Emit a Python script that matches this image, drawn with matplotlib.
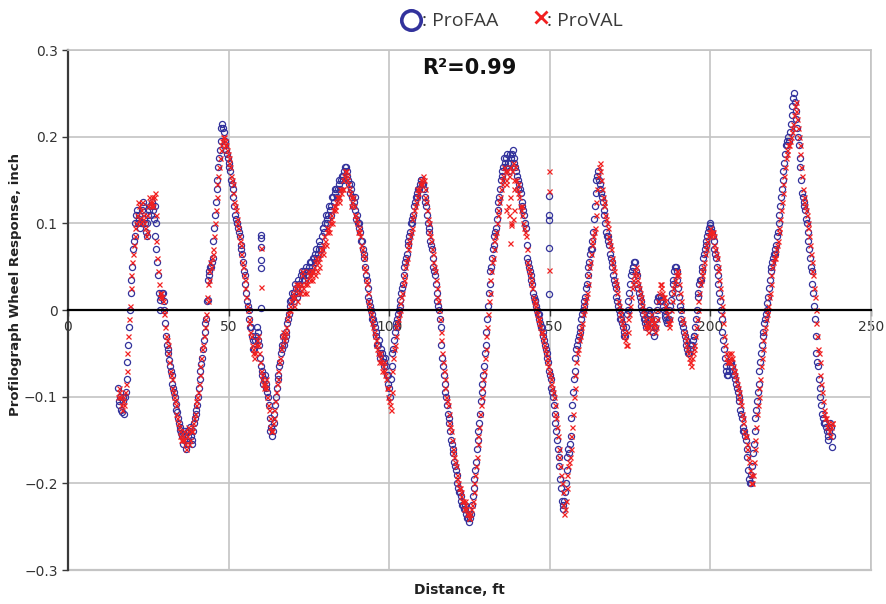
import numpy as np
import matplotlib
matplotlib.use("Agg")
import matplotlib.pyplot as plt
from matplotlib.lines import Line2D

# distance grid (ft): readings every half foot, plus the in-between readings
dist = np.arange(15.5, 238.01, 0.5)
dist_mid = dist[:-1] + 0.25

# ProFAA wheel response (inch), rows of 10 ft
faa = [
    -0.09, -0.105, -0.115, -0.10, -0.12, -0.095, -0.06, -0.02, 0.02, 0.05, 0.08, 0.10, 0.115, 0.11, 0.095, 0.115, 0.12, 0.10, 0.085, 0.11,
    0.12, 0.125, 0.115, 0.12, 0.07, 0.04, 0.0, 0.015, 0.02, 0.0, -0.03, -0.045, -0.058, -0.07, -0.085, -0.095, -0.108, -0.118, -0.13, -0.138,
    -0.145, -0.15, -0.14, -0.155, -0.145, -0.135, -0.15, -0.14, -0.125, -0.115, -0.10, -0.08, -0.062, -0.045, -0.025, -0.01, 0.035, 0.045, 0.05, 0.06,
    0.095, 0.125, 0.15, 0.175, 0.195, 0.215, 0.205, 0.19, 0.18, 0.17, 0.16, 0.145, 0.13, 0.11, 0.10, 0.095, 0.085, 0.07, 0.055, 0.04,
    0.02, 0.005, -0.01, -0.02, -0.035, -0.045, -0.03, -0.025, -0.04, -0.065, -0.075, -0.08, -0.085, -0.095, -0.11, -0.14, -0.145, -0.13, -0.11, -0.09,
    -0.075, -0.06, -0.045, -0.03, -0.035, -0.025, -0.01, 0.005, 0.012, 0.015, 0.02, 0.025, 0.02, 0.03, 0.04, 0.035, 0.045, 0.04, 0.045, 0.05,
    0.055, 0.05, 0.06, 0.065, 0.06, 0.07, 0.075, 0.085, 0.095, 0.10, 0.105, 0.11, 0.115, 0.12, 0.13, 0.135, 0.14, 0.14, 0.145, 0.15,
    0.15, 0.16, 0.165, 0.155, 0.145, 0.14, 0.13, 0.125, 0.115, 0.11, 0.10, 0.09, 0.08, 0.065, 0.05, 0.035, 0.015, 0.005, -0.005, -0.01,
    -0.02, -0.03, -0.04, -0.05, -0.045, -0.055, -0.06, -0.065, -0.075, -0.09, -0.08, -0.05, -0.035, -0.02, -0.01, 0.0, 0.012, 0.025, 0.04, 0.055,
    0.065, 0.08, 0.09, 0.10, 0.11, 0.125, 0.13, 0.14, 0.145, 0.15, 0.145, 0.13, 0.12, 0.10, 0.09, 0.075, 0.06, 0.045, 0.03, 0.01,
    0.0, -0.02, -0.055, -0.075, -0.095, -0.11, -0.125, -0.14, -0.155, -0.165, -0.18, -0.19, -0.205, -0.21, -0.22, -0.225, -0.23, -0.235, -0.24, -0.245,
    -0.235, -0.215, -0.195, -0.175, -0.15, -0.13, -0.105, -0.085, -0.065, -0.04, -0.01, 0.02, 0.045, 0.06, 0.075, 0.09, 0.105, 0.125, 0.14, 0.155,
    0.165, 0.17, 0.175, 0.17, 0.18, 0.175, 0.185, 0.175, 0.16, 0.15, 0.145, 0.135, 0.12, 0.11, 0.095, 0.06, 0.05, 0.04, 0.03, 0.015,
    0.01, 0.0, -0.005, -0.015, -0.02, -0.03, -0.04, -0.05, -0.06, -0.075, -0.09, -0.10, -0.12, -0.14, -0.16, -0.18, -0.205, -0.23, -0.22, -0.20,
    -0.17, -0.165, -0.145, -0.11, -0.08, -0.055, -0.04, -0.03, -0.02, -0.005, 0.005, 0.015, 0.03, 0.05, 0.065, 0.07, 0.09, 0.12, 0.15, 0.16,
    0.145, 0.135, 0.125, 0.11, 0.09, 0.085, 0.075, 0.06, 0.05, 0.035, 0.025, 0.01, 0.0, -0.005, -0.015, -0.025, -0.03, -0.005, 0.01, 0.03,
    0.045, 0.05, 0.055, 0.04, 0.025, 0.015, 0.005, -0.005, -0.01, -0.02, -0.01, 0.0, -0.01, -0.02, -0.03, -0.01, 0.01, 0.015, 0.012, 0.01,
    0.0, -0.008, -0.015, -0.01, 0.005, 0.02, 0.035, 0.05, 0.045, 0.025, 0.005, -0.01, -0.02, -0.03, -0.04, -0.05, -0.045, -0.04, -0.035, -0.03,
    -0.01, 0.015, 0.03, 0.035, 0.05, 0.065, 0.075, 0.085, 0.095, 0.098, 0.09, 0.08, 0.065, 0.05, 0.03, 0.01, -0.01, -0.035, -0.055, -0.07,
    -0.075, -0.065, -0.06, -0.07, -0.075, -0.085, -0.095, -0.105, -0.12, -0.135, -0.14, -0.15, -0.17, -0.195, -0.20, -0.18, -0.155, -0.125, -0.105, -0.085,
    -0.06, -0.04, -0.025, -0.01, 0.0, 0.015, 0.035, 0.05, 0.06, 0.065, 0.075, 0.09, 0.11, 0.13, 0.15, 0.17, 0.19, 0.195, 0.195, 0.215,
    0.235, 0.25, 0.23, 0.21, 0.19, 0.165, 0.135, 0.125, 0.115, 0.10, 0.08, 0.06, 0.045, 0.02, -0.01, -0.05, -0.065, -0.09, -0.11, -0.125,
    -0.13, -0.135, -0.145, -0.14, -0.135, -0.158,
]
faa_mid = [
    -0.11, -0.10, -0.118, -0.105, -0.10, -0.08, -0.04, 0.0, 0.035, 0.07, 0.085, 0.11, 0.10, 0.105, 0.10, 0.125, 0.105, 0.09, 0.10, 0.115,
    0.11, 0.12, 0.105, 0.10, 0.055, 0.02, 0.012, 0.02, 0.01, -0.015, -0.04, -0.05, -0.065, -0.075, -0.09, -0.10, -0.115, -0.125, -0.135, -0.142,
    -0.155, -0.145, -0.16, -0.14, -0.14, -0.145, -0.155, -0.13, -0.12, -0.11, -0.09, -0.07, -0.055, -0.035, -0.015, 0.01, 0.04, 0.05, 0.055, 0.08,
    0.11, 0.14, 0.165, 0.185, 0.21, 0.21, 0.195, 0.185, 0.175, 0.165, 0.15, 0.14, 0.12, 0.105, 0.10, 0.09, 0.075, 0.065, 0.045, 0.03,
    0.01, 0.0, -0.02, -0.03, -0.045, -0.035, -0.02, -0.035, -0.055, -0.07, -0.085, -0.075, -0.09, -0.10, -0.125, -0.135, -0.14, -0.12, -0.10, -0.08,
    -0.065, -0.05, -0.04, -0.04, -0.03, -0.015, -0.005, 0.01, 0.02, 0.01, 0.03, 0.015, 0.035, 0.025, 0.045, 0.04, 0.035, 0.05, 0.04, 0.055,
    0.045, 0.06, 0.055, 0.07, 0.065, 0.08, 0.07, 0.095, 0.09, 0.11, 0.10, 0.12, 0.11, 0.13, 0.125, 0.14, 0.13, 0.15, 0.14, 0.155,
    0.155, 0.165, 0.16, 0.15, 0.135, 0.145, 0.12, 0.13, 0.105, 0.10, 0.095, 0.08, 0.07, 0.06, 0.04, 0.025, 0.01, 0.0, -0.01, -0.015,
    -0.025, -0.04, -0.035, -0.055, -0.05, -0.065, -0.055, -0.075, -0.085, -0.10, -0.065, -0.045, -0.025, -0.015, -0.005, 0.005, 0.02, 0.03, 0.05, 0.06,
    0.075, 0.085, 0.10, 0.105, 0.12, 0.13, 0.135, 0.14, 0.15, 0.145, 0.14, 0.125, 0.11, 0.095, 0.08, 0.07, 0.05, 0.04, 0.02, 0.005,
    -0.01, -0.04, -0.065, -0.085, -0.10, -0.12, -0.13, -0.15, -0.16, -0.175, -0.185, -0.20, -0.21, -0.215, -0.225, -0.23, -0.225, -0.24, -0.235, -0.24,
    -0.225, -0.205, -0.185, -0.16, -0.14, -0.12, -0.095, -0.075, -0.05, -0.025, 0.005, 0.03, 0.05, 0.07, 0.085, 0.095, 0.115, 0.13, 0.15, 0.16,
    0.175, 0.165, 0.18, 0.16, 0.17, 0.18, 0.17, 0.165, 0.155, 0.14, 0.14, 0.125, 0.115, 0.10, 0.075, 0.055, 0.045, 0.035, 0.02, 0.012,
    0.005, -0.005, -0.01, -0.02, -0.025, -0.035, -0.045, -0.055, -0.07, -0.08, -0.095, -0.11, -0.13, -0.15, -0.17, -0.195, -0.22, -0.225, -0.21, -0.185,
    -0.16, -0.155, -0.125, -0.095, -0.07, -0.045, -0.035, -0.025, -0.01, 0.0, 0.01, 0.025, 0.04, 0.055, 0.07, 0.08, 0.105, 0.135, 0.155, 0.15,
    0.14, 0.13, 0.115, 0.10, 0.085, 0.08, 0.065, 0.055, 0.04, 0.03, 0.015, 0.005, -0.01, -0.01, -0.02, -0.03, -0.02, 0.0, 0.02, 0.04,
    0.05, 0.055, 0.045, 0.03, 0.02, 0.01, 0.0, -0.01, -0.015, -0.015, -0.005, -0.005, -0.015, -0.025, -0.02, 0.0, 0.015, 0.01, 0.015, 0.005,
    -0.005, -0.012, -0.012, 0.0, 0.012, 0.03, 0.045, 0.05, 0.035, 0.015, 0.0, -0.015, -0.025, -0.035, -0.045, -0.05, -0.04, -0.04, -0.03, -0.02,
    0.0, 0.02, 0.035, 0.045, 0.06, 0.07, 0.08, 0.09, 0.10, 0.095, 0.085, 0.07, 0.06, 0.04, 0.02, 0.0, -0.025, -0.045, -0.065, -0.075,
    -0.07, -0.06, -0.065, -0.075, -0.08, -0.09, -0.10, -0.115, -0.125, -0.14, -0.145, -0.16, -0.185, -0.20, -0.19, -0.165, -0.14, -0.115, -0.095, -0.07,
    -0.05, -0.03, -0.015, -0.005, 0.008, 0.025, 0.045, 0.055, 0.065, 0.07, 0.085, 0.10, 0.12, 0.14, 0.16, 0.18, 0.19, 0.20, 0.205, 0.225,
    0.245, 0.24, 0.22, 0.20, 0.175, 0.15, 0.13, 0.12, 0.105, 0.09, 0.07, 0.05, 0.03, 0.005, -0.03, -0.06, -0.08, -0.10, -0.12, -0.13,
    -0.13, -0.14, -0.15, -0.13, -0.145,
]

# ProVAL wheel response (inch), same grid
val = [
    -0.10, -0.095, -0.11, -0.105, -0.11, -0.085, -0.05, -0.01, 0.025, 0.055, 0.075, 0.095, 0.11, 0.12, 0.10, 0.125, 0.105, 0.095, 0.09, 0.12,
    0.125, 0.13, 0.12, 0.135, 0.08, 0.045, 0.015, 0.02, 0.01, -0.005, -0.03, -0.04, -0.06, -0.075, -0.09, -0.10, -0.11, -0.125, -0.135, -0.145,
    -0.15, -0.14, -0.155, -0.145, -0.14, -0.15, -0.135, -0.13, -0.12, -0.105, -0.095, -0.075, -0.055, -0.04, -0.02, -0.005, 0.03, 0.045, 0.05, 0.065,
    0.085, 0.115, 0.145, 0.165, 0.185, 0.195, 0.20, 0.195, 0.185, 0.175, 0.165, 0.15, 0.135, 0.12, 0.105, 0.095, 0.08, 0.065, 0.05, 0.035,
    0.015, 0.0, -0.015, -0.03, -0.045, -0.055, -0.04, -0.03, -0.05, -0.07, -0.08, -0.09, -0.08, -0.10, -0.115, -0.135, -0.14, -0.125, -0.105, -0.085,
    -0.07, -0.055, -0.04, -0.025, -0.03, -0.02, -0.005, 0.0, 0.01, 0.02, 0.015, 0.03, 0.02, 0.025, 0.03, 0.04, 0.02, 0.035, 0.03, 0.04,
    0.045, 0.035, 0.05, 0.055, 0.045, 0.06, 0.065, 0.07, 0.075, 0.08, 0.09, 0.095, 0.10, 0.105, 0.115, 0.12, 0.125, 0.13, 0.13, 0.135,
    0.14, 0.155, 0.16, 0.15, 0.14, 0.13, 0.125, 0.12, 0.11, 0.10, 0.095, 0.085, 0.07, 0.06, 0.045, 0.03, 0.01, 0.0, -0.01, -0.02,
    -0.03, -0.04, -0.05, -0.055, -0.06, -0.065, -0.07, -0.08, -0.09, -0.105, -0.115, -0.07, -0.045, -0.03, -0.015, -0.005, 0.008, 0.02, 0.035, 0.05,
    0.06, 0.075, 0.085, 0.095, 0.11, 0.12, 0.13, 0.135, 0.145, 0.15, 0.155, 0.14, 0.125, 0.105, 0.09, 0.08, 0.065, 0.05, 0.035, 0.015,
    0.0, -0.025, -0.05, -0.07, -0.09, -0.105, -0.12, -0.135, -0.15, -0.165, -0.175, -0.19, -0.20, -0.205, -0.215, -0.22, -0.225, -0.23, -0.235, -0.24,
    -0.23, -0.22, -0.20, -0.18, -0.155, -0.135, -0.11, -0.09, -0.07, -0.045, -0.02, 0.01, 0.035, 0.055, 0.07, 0.085, 0.10, 0.115, 0.13, 0.145,
    0.155, 0.16, 0.15, 0.12, 0.165, 0.10, 0.17, 0.14, 0.15, 0.135, 0.13, 0.115, 0.11, 0.095, 0.085, 0.055, 0.045, 0.035, 0.025, 0.01,
    0.005, -0.005, -0.01, -0.02, -0.025, -0.035, -0.045, -0.055, -0.065, -0.075, -0.085, -0.095, -0.11, -0.125, -0.145, -0.17, -0.19, -0.21, -0.235, -0.22,
    -0.19, -0.175, -0.16, -0.135, -0.10, -0.075, -0.05, -0.035, -0.025, -0.015, 0.0, 0.01, 0.02, 0.04, 0.055, 0.075, 0.085, 0.095, 0.125, 0.155,
    0.17, 0.15, 0.13, 0.12, 0.105, 0.095, 0.08, 0.07, 0.055, 0.045, 0.03, 0.02, 0.005, -0.005, -0.015, -0.025, -0.035, -0.04, -0.01, 0.005,
    0.025, 0.035, 0.045, 0.04, 0.03, 0.02, 0.01, 0.0, -0.01, -0.015, -0.025, -0.015, -0.005, -0.015, -0.015, -0.02, 0.0, 0.02, 0.03, 0.02,
    0.015, 0.005, -0.005, -0.02, -0.01, 0.01, 0.025, 0.035, 0.045, 0.04, 0.02, 0.0, -0.015, -0.03, -0.04, -0.05, -0.06, -0.065, -0.05, -0.04,
    -0.02, 0.0, 0.02, 0.035, 0.045, 0.055, 0.07, 0.08, 0.09, 0.095, 0.09, 0.085, 0.07, 0.06, 0.045, 0.025, 0.005, -0.015, -0.04, -0.055,
    -0.06, -0.055, -0.05, -0.065, -0.07, -0.08, -0.09, -0.10, -0.11, -0.125, -0.14, -0.145, -0.16, -0.175, -0.19, -0.20, -0.175, -0.15, -0.12, -0.10,
    -0.08, -0.055, -0.035, -0.02, -0.005, 0.005, 0.02, 0.04, 0.055, 0.065, 0.07, 0.08, 0.095, 0.115, 0.135, 0.155, 0.175, 0.185, 0.19, 0.20,
    0.21, 0.225, 0.24, 0.22, 0.20, 0.18, 0.155, 0.13, 0.12, 0.11, 0.095, 0.075, 0.055, 0.04, 0.015, -0.015, -0.045, -0.06, -0.085, -0.105,
    -0.12, -0.125, -0.13, -0.14, -0.135, -0.13,
]
val_mid = [
    -0.09, -0.10, -0.115, -0.10, -0.095, -0.07, -0.03, 0.005, 0.04, 0.065, 0.085, 0.10, 0.125, 0.105, 0.115, 0.11, 0.10, 0.085, 0.11, 0.13,
    0.12, 0.125, 0.13, 0.11, 0.06, 0.03, 0.02, 0.015, 0.0, -0.02, -0.035, -0.05, -0.07, -0.08, -0.095, -0.105, -0.12, -0.13, -0.14, -0.15,
    -0.145, -0.15, -0.16, -0.135, -0.155, -0.14, -0.14, -0.125, -0.11, -0.10, -0.085, -0.065, -0.045, -0.03, -0.01, 0.015, 0.035, 0.055, 0.06, 0.07,
    0.10, 0.13, 0.155, 0.175, 0.19, 0.20, 0.19, 0.19, 0.18, 0.17, 0.155, 0.145, 0.125, 0.115, 0.10, 0.085, 0.075, 0.055, 0.04, 0.025,
    0.005, -0.01, -0.025, -0.04, -0.05, -0.05, -0.035, -0.04, -0.06, -0.075, -0.085, -0.085, -0.09, -0.11, -0.125, -0.14, -0.13, -0.115, -0.095, -0.08,
    -0.06, -0.045, -0.03, -0.035, -0.025, -0.01, 0.0, 0.005, 0.015, 0.005, 0.025, 0.01, 0.03, 0.02, 0.045, 0.025, 0.03, 0.02, 0.045, 0.035,
    0.04, 0.045, 0.04, 0.06, 0.055, 0.05, 0.07, 0.065, 0.085, 0.075, 0.095, 0.09, 0.11, 0.10, 0.12, 0.115, 0.13, 0.125, 0.14, 0.14,
    0.15, 0.16, 0.155, 0.145, 0.135, 0.12, 0.13, 0.11, 0.105, 0.09, 0.09, 0.075, 0.065, 0.05, 0.035, 0.02, 0.005, -0.005, -0.015, -0.025,
    -0.035, -0.045, -0.06, -0.05, -0.07, -0.06, -0.075, -0.09, -0.10, -0.11, -0.095, -0.055, -0.04, -0.02, -0.01, 0.0, 0.015, 0.03, 0.04, 0.055,
    0.07, 0.08, 0.09, 0.105, 0.115, 0.125, 0.14, 0.14, 0.15, 0.145, 0.15, 0.13, 0.115, 0.10, 0.085, 0.07, 0.055, 0.045, 0.025, 0.01,
    -0.01, -0.035, -0.06, -0.08, -0.10, -0.11, -0.13, -0.14, -0.16, -0.17, -0.18, -0.195, -0.205, -0.21, -0.22, -0.23, -0.22, -0.235, -0.24, -0.235,
    -0.225, -0.21, -0.19, -0.17, -0.145, -0.12, -0.10, -0.08, -0.055, -0.03, -0.005, 0.02, 0.045, 0.06, 0.08, 0.09, 0.11, 0.125, 0.14, 0.15,
    0.165, 0.145, 0.16, 0.155, 0.13, 0.16, 0.15, 0.165, 0.14, 0.145, 0.12, 0.12, 0.10, 0.09, 0.07, 0.05, 0.04, 0.03, 0.015, 0.008,
    0.0, -0.01, -0.015, -0.025, -0.03, -0.04, -0.05, -0.06, -0.07, -0.08, -0.09, -0.10, -0.12, -0.135, -0.16, -0.18, -0.20, -0.225, -0.23, -0.205,
    -0.18, -0.17, -0.145, -0.12, -0.09, -0.06, -0.045, -0.03, -0.02, -0.005, 0.005, 0.015, 0.03, 0.05, 0.065, 0.08, 0.09, 0.11, 0.14, 0.165,
    0.16, 0.14, 0.125, 0.11, 0.10, 0.085, 0.075, 0.06, 0.05, 0.035, 0.025, 0.01, 0.0, -0.01, -0.02, -0.03, -0.04, -0.025, -0.005, 0.015,
    0.03, 0.04, 0.05, 0.035, 0.025, 0.015, 0.005, -0.005, -0.02, -0.02, -0.02, -0.01, -0.01, -0.02, -0.025, -0.01, 0.01, 0.03, 0.025, 0.015,
    0.01, 0.0, -0.015, -0.015, 0.0, 0.02, 0.03, 0.04, 0.045, 0.03, 0.01, -0.01, -0.025, -0.035, -0.045, -0.055, -0.06, -0.055, -0.045, -0.03,
    -0.01, 0.01, 0.03, 0.04, 0.05, 0.065, 0.075, 0.085, 0.09, 0.085, 0.09, 0.075, 0.065, 0.05, 0.035, 0.015, -0.005, -0.03, -0.05, -0.06,
    -0.05, -0.06, -0.055, -0.07, -0.075, -0.085, -0.095, -0.105, -0.12, -0.13, -0.145, -0.155, -0.17, -0.185, -0.20, -0.19, -0.16, -0.135, -0.11, -0.09,
    -0.065, -0.045, -0.025, -0.01, 0.0, 0.015, 0.03, 0.05, 0.06, 0.06, 0.075, 0.09, 0.105, 0.125, 0.145, 0.165, 0.18, 0.19, 0.195, 0.205,
    0.215, 0.235, 0.23, 0.21, 0.19, 0.165, 0.14, 0.125, 0.115, 0.10, 0.085, 0.065, 0.045, 0.025, 0.0, -0.03, -0.05, -0.075, -0.095, -0.115,
    -0.125, -0.135, -0.13, -0.145, -0.13,
]

# stray readings
faa_extra_x = [27.0, 43.5, 60.1, 60.1, 60.1, 60.1, 60.1, 60.1, 149.8, 149.8, 149.8, 149.8, 149.8]
faa_extra_y = [0.085, 0.012, 0.087, 0.083, 0.073, 0.058, 0.048, 0.002, 0.131, 0.11, 0.104, 0.071, 0.019]
val_extra_x = [43.5, 60.1, 60.1, 136.5, 137.2, 138.0, 137.5, 139.0, 138.5, 149.8, 149.8, 149.8]
val_extra_y = [0.01, 0.071, 0.027, 0.115, 0.11, 0.098, 0.077, 0.115, 0.105, 0.16, 0.137, 0.046]

blue = "#32329c"
red = "#f22020"
grid_c = "#c4c4c4"
txt_c = "#333333"

fig = plt.figure(figsize=(8.86, 6.04), dpi=100)
ax = fig.add_axes([68 / 886, 1 - 570 / 604, (871 - 68) / 886, 520 / 604])

circ = dict(ls="none", marker="o", ms=4.4, mfc="none", mec=blue, mew=0.9)
cross = dict(ls="none", marker="x", ms=3.6, mec=red, mew=0.9)
ax.plot(dist, faa, **circ)
ax.plot(dist_mid, faa_mid, **circ)
ax.plot(faa_extra_x, faa_extra_y, **circ)
ax.plot(dist, val, **cross)
ax.plot(dist_mid, val_mid, **cross)
ax.plot(val_extra_x, val_extra_y, **cross)

ax.set_xlim(0, 250)
ax.set_ylim(-0.3, 0.3)
ax.set_xticks([0, 50, 100, 150, 200, 250])
ax.set_yticks([-0.3, -0.2, -0.1, 0, 0.1, 0.2, 0.3])
ax.set_yticklabels(["\u22120.3", "\u22120.2", "\u22120.1", "0", "0.1", "0.2", "0.3"])
ax.grid(True, color=grid_c, lw=1.2)
ax.set_axisbelow(True)

ax.spines["bottom"].set_position(("data", 0))
ax.spines["bottom"].set_color("black")
ax.spines["bottom"].set_linewidth(1.6)
ax.spines["left"].set_color("#3a3a3a")
ax.spines["left"].set_linewidth(1.6)
for s in ["top", "right"]:
    ax.spines[s].set_color(grid_c)
    ax.spines[s].set_linewidth(1.2)
ax.axhline(-0.3, color=grid_c, lw=1.6, clip_on=False, zorder=0.5)

ax.tick_params(axis="both", direction="out", length=4, width=1, colors="#3a3a3a",
               labelsize=10, labelcolor=txt_c)
ax.tick_params(axis="x", pad=3)

ax.text(125, 0.279, "R\u00b2=0.99", ha="center", va="center", fontsize=15,
        fontweight="bold", color="#111111")

fig.text(16 / 886, 1 - 285 / 604, "Profilograph Wheel Response, inch", rotation=90,
         ha="center", va="center", fontsize=9.5, fontweight="bold", color="#222222")
fig.text(459 / 886, 1 - 590 / 604, "Distance, ft", ha="center", va="center",
         fontsize=10, fontweight="bold", color="#222222")

# legend drawn by hand at the top
fig.add_artist(Line2D([411 / 886], [1 - 20 / 604], transform=fig.transFigure,
                      marker="o", ms=14, mfc="none", mec=blue, mew=2.6, ls="none"))
fig.text(422 / 886, 1 - 21 / 604, ": ProFAA", ha="left", va="center", fontsize=14,
         family="Open Sans", color="#3a3a3a")
fig.add_artist(Line2D([541 / 886], [1 - 17 / 604], transform=fig.transFigure,
                      marker="x", ms=8, mec=red, mew=2, ls="none"))
fig.text(547 / 886, 1 - 21 / 604, ": ProVAL", ha="left", va="center", fontsize=14,
         family="Open Sans", color="#3a3a3a")

fig.savefig("out.png", dpi=100)
